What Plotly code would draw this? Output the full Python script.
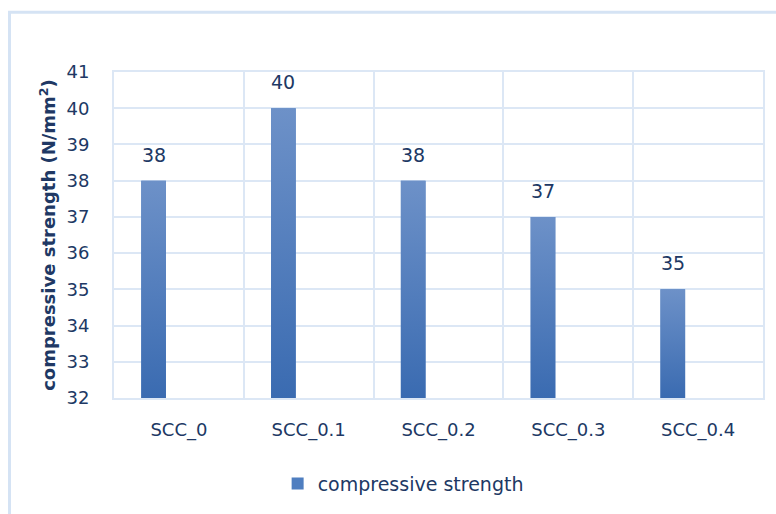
import plotly.graph_objects as go

# Compressive strength of SCC mixes (N/mm²)
categories = ["SCC_0", "SCC_0.1", "SCC_0.2", "SCC_0.3", "SCC_0.4"]
strength = [38, 40, 38, 37, 35]
series_name = "compressive strength"
y_ticks = [32, 33, 34, 35, 36, 37, 38, 39, 40, 41]

Y_MIN, Y_MAX = 32, 41
BAR_OFFSET, BAR_WIDTH = -0.29, 0.19
TEXT = "#203864"
GRID = "#dce7f5"
FONT = "DejaVu Sans"
BAR_TOP, BAR_BOTTOM, BAR_MID = "#6d91c8", "#3a6bb1", "#4f7ec0"

idx = list(range(len(categories)))

fig = go.Figure()

# Base bars (also supply the legend entry)
fig.add_trace(go.Bar(
    x=idx, y=strength, name=series_name,
    width=BAR_WIDTH, offset=BAR_OFFSET,
    marker=dict(color=BAR_MID, line=dict(width=0)),
    showlegend=True, hoverinfo="skip",
))

# Vertical gradient shading over each bar
for i, v in zip(idx, strength):
    x0, x1 = i + BAR_OFFSET, i + BAR_OFFSET + BAR_WIDTH
    fig.add_trace(go.Scatter(
        x=[x0, x1, x1, x0, x0], y=[Y_MIN, Y_MIN, v, v, Y_MIN],
        mode="none", fill="toself",
        fillgradient=dict(type="vertical",
                          colorscale=[[0, BAR_BOTTOM], [1, BAR_TOP]]),
        showlegend=False, hoverinfo="skip",
    ))

# Value labels above the bars
for i, v in zip(idx, strength):
    fig.add_annotation(
        x=i + BAR_OFFSET + BAR_WIDTH / 2, y=v, text=str(v),
        showarrow=False, yanchor="middle", yshift=26,
        font=dict(family=FONT, size=19, color=TEXT),
    )

# Outer chart frame
fig.add_shape(type="rect", xref="paper", yref="paper",
              x0=-0.161, x1=1.2, y0=-0.5, y1=1.1835,
              line=dict(color="#d5e3f4", width=3), layer="below")

fig.update_layout(
    width=776, height=514,
    margin=dict(l=114, r=11, t=72, b=115),
    paper_bgcolor="white", plot_bgcolor="white",
    font=dict(family=FONT, color=TEXT),
    barmode="overlay",
    showlegend=True,
    legend=dict(orientation="h", x=0.4455, xanchor="center",
                y=-0.263, yanchor="middle", itemwidth=30,
                font=dict(family=FONT, size=19, color=TEXT)),
    xaxis=dict(
        range=[-0.5, len(categories) - 0.5],
        tickmode="array", tickvals=idx, ticktext=categories,
        tickfont=dict(family=FONT, size=18, color=TEXT),
        ticks="outside", ticklen=14, tickcolor="rgba(0,0,0,0)",
        showgrid=False, zeroline=False,
        showline=True, linecolor=GRID, linewidth=2, mirror=True,
        minor=dict(tick0=0.5, dtick=1, showgrid=True,
                   gridcolor=GRID, gridwidth=2, ticks=""),
    ),
    yaxis=dict(
        range=[Y_MIN, Y_MAX], tickmode="array", tickvals=y_ticks,
        tickfont=dict(family=FONT, size=18, color=TEXT),
        ticks="outside", ticklen=19, tickcolor="rgba(0,0,0,0)",
        showgrid=True, gridcolor=GRID, gridwidth=2,
        zeroline=False,
        showline=True, linecolor=GRID, linewidth=2, mirror=True,
        title=dict(text="<b>compressive strength (N/mm<sup>2</sup>)</b>",
                   font=dict(family=FONT, size=18, color=TEXT),
                   standoff=6),
    ),
)

fig.write_html("out.html")
